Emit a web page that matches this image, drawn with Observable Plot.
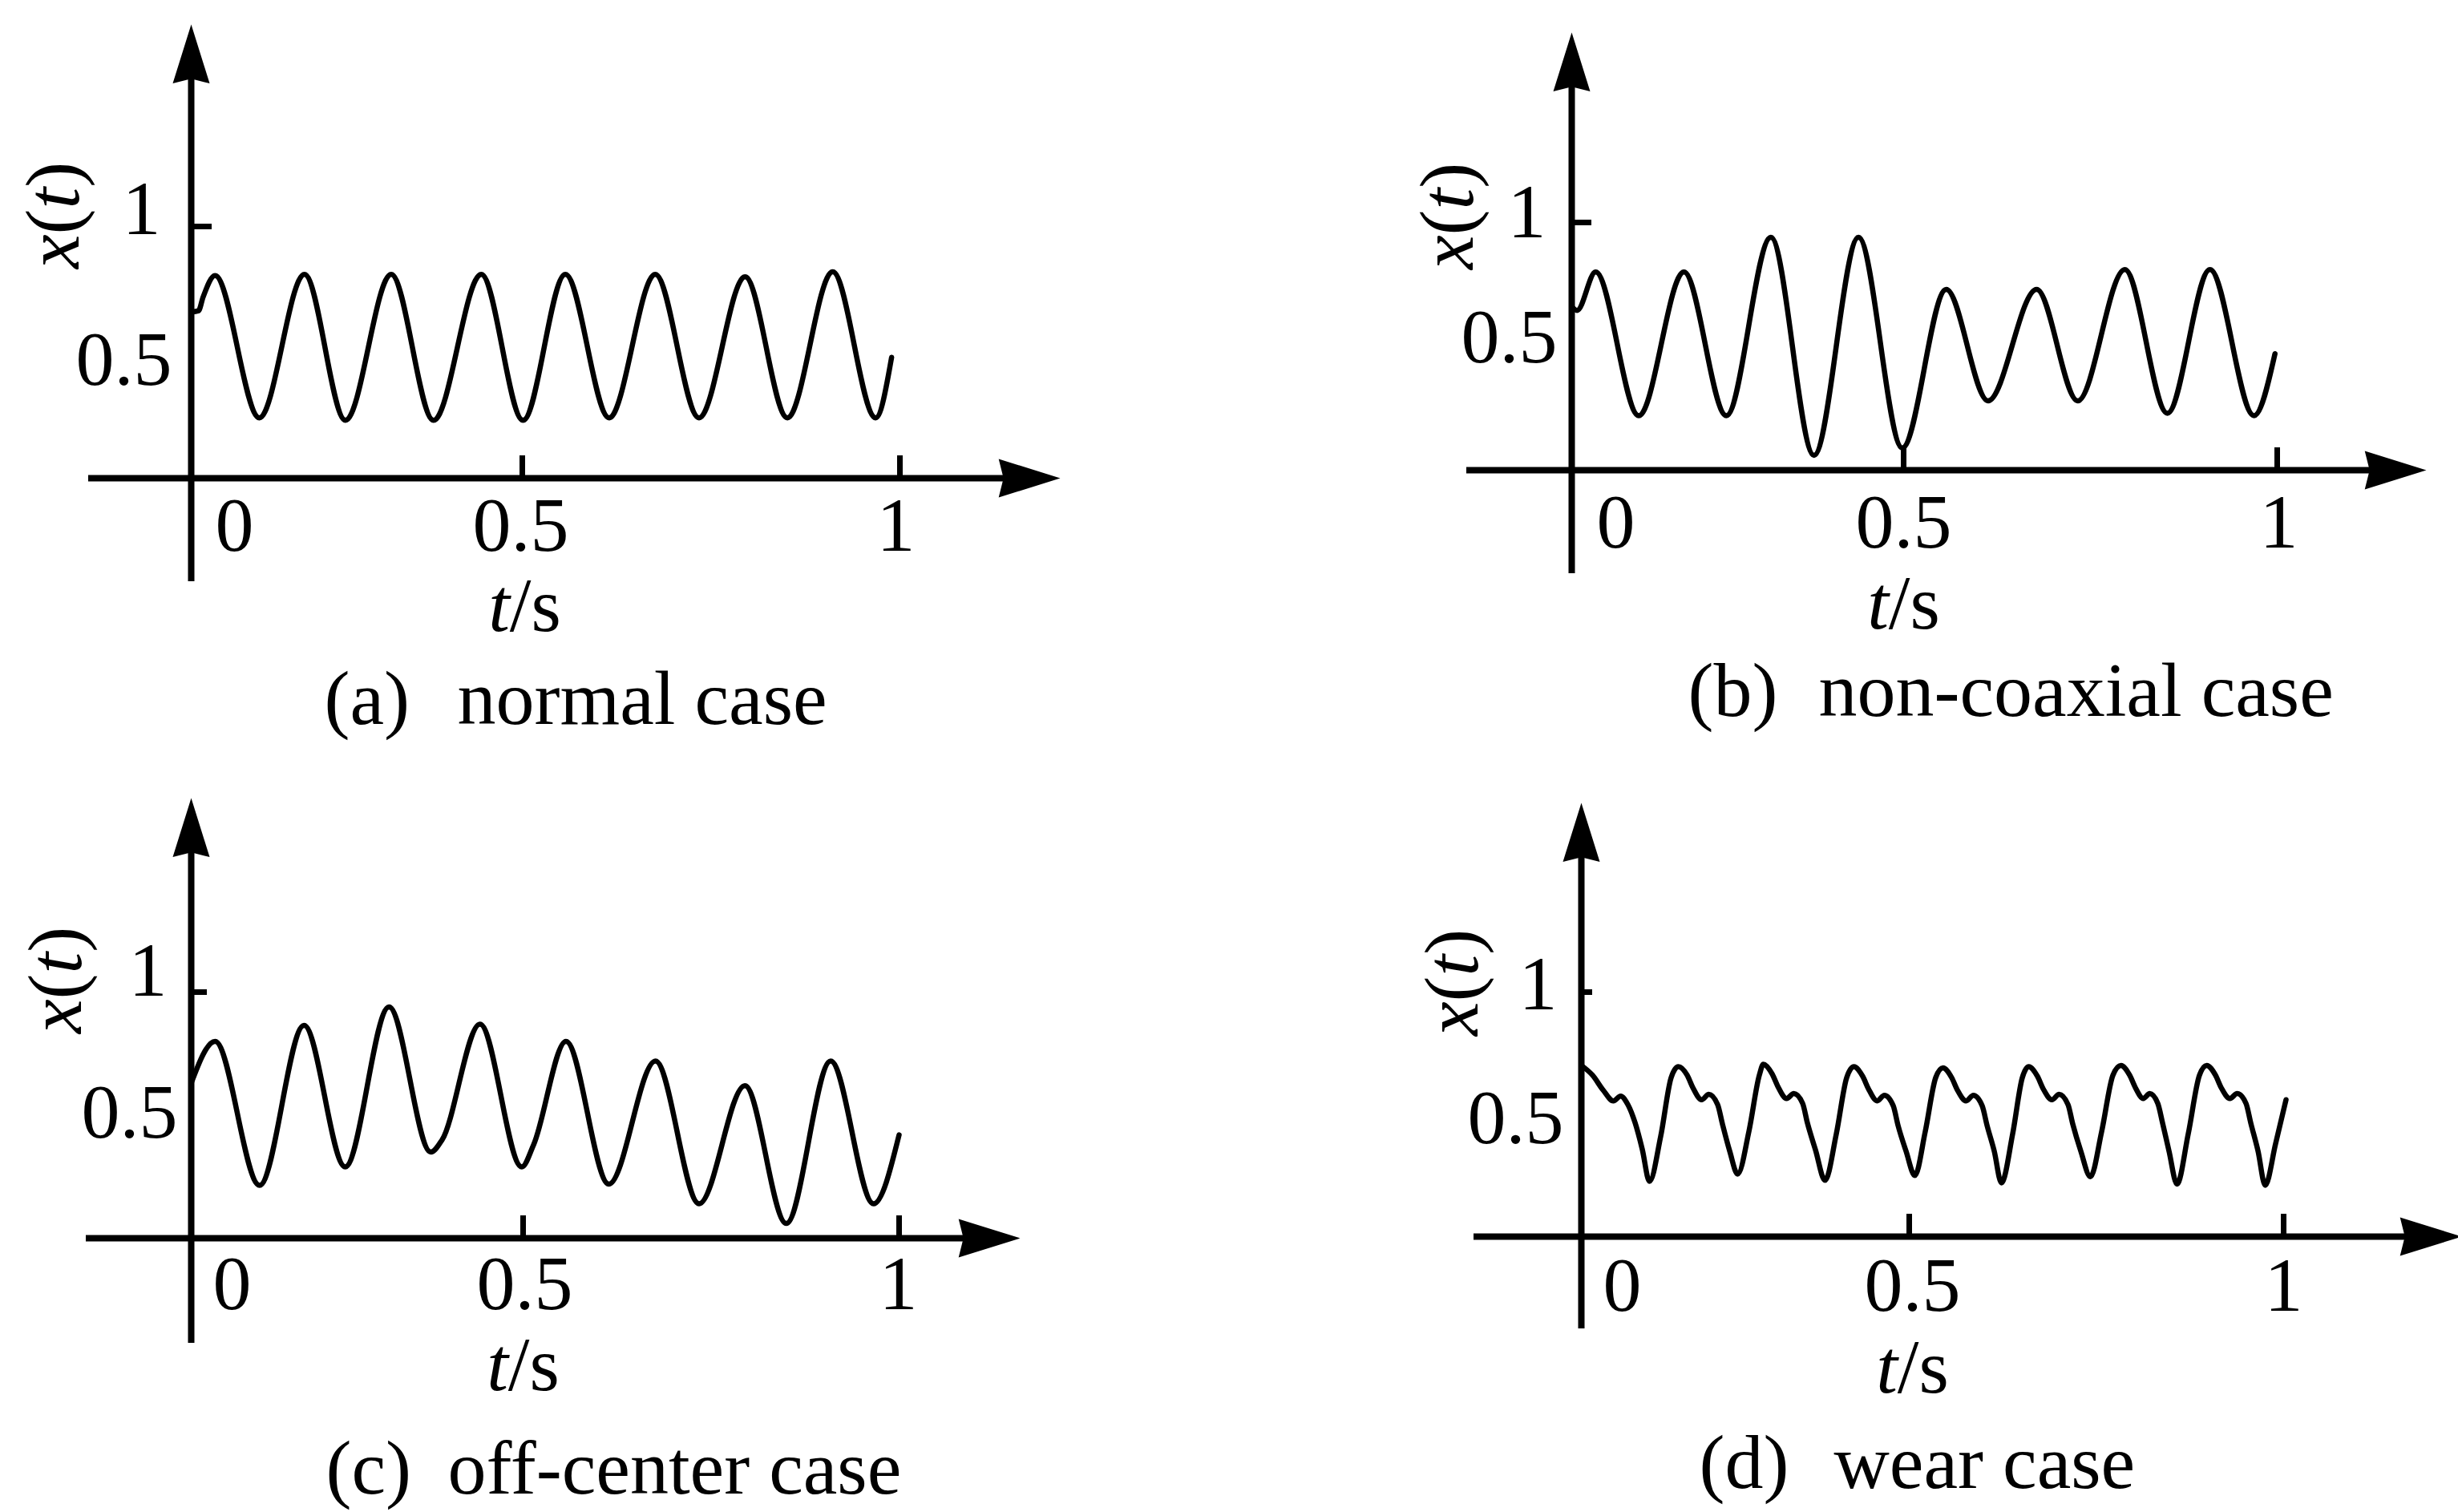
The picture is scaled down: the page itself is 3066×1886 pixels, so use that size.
<!DOCTYPE html>
<html>
<head>
<meta charset="utf-8">
<script src="https://cdn.jsdelivr.net/npm/d3@7"></script>
<script src="https://cdn.jsdelivr.net/npm/@observablehq/plot@0.6"></script>
<style>
html, body { margin: 0; padding: 0; background: #fff; }
#page { position: relative; width: 3066px; height: 1886px; overflow: hidden; background: #fff; }
#page svg { position: absolute; overflow: visible; background: transparent; max-width: none; }
</style>
</head>
<body>
<div id="page"></div>
<script>
// ---------------- data ----------------
// (a) normal case
const tA = [0, 0.011, 0.018, 0.036, 0.103, 0.171, 0.233, 0.302, 0.366, 0.438, 0.501, 0.557, 0.615, 0.676, 0.734, 0.795, 0.851, 0.911, 0.968, 0.989];
const xA = [0.66, 0.665, 0.72, 0.805, 0.24, 0.81, 0.23, 0.81, 0.23, 0.81, 0.23, 0.81, 0.24, 0.81, 0.24, 0.80, 0.24, 0.82, 0.24, 0.48];
// (b) non-coaxial case
const tB = [0, 0.008, 0.036, 0.101, 0.169, 0.233, 0.300, 0.365, 0.432, 0.498, 0.557, 0.613, 0.678, 0.733, 0.796, 0.853, 0.910, 0.969, 0.997];
const xB = [0.66, 0.645, 0.80, 0.22, 0.80, 0.22, 0.94, 0.06, 0.94, 0.09, 0.73, 0.28, 0.73, 0.28, 0.81, 0.23, 0.81, 0.22, 0.47];
// (c) off-center case
const tC = [0, 0.036, 0.103, 0.170, 0.232, 0.298, 0.361, 0.378, 0.435, 0.498, 0.514, 0.557, 0.614, 0.676, 0.734, 0.795, 0.850, 0.909, 0.966, 1.0];
const xC = [0.63, 0.80, 0.215, 0.865, 0.29, 0.94, 0.35, 0.40, 0.87, 0.29, 0.38, 0.80, 0.22, 0.72, 0.14, 0.62, 0.06, 0.72, 0.14, 0.42];
// (d) wear case
const tD = [0, 0.0171, 0.0330, 0.0489, 0.0599, 0.0709, 0.0819, 0.0929, 0.1039, 0.1210, 0.1369, 0.1479,
  0.1614, 0.1699, 0.1834, 0.1944, 0.2078, 0.2152, 0.2262, 0.2384, 0.2555, 0.2714, 0.2775,
  0.2910, 0.2995, 0.3130, 0.3240, 0.3374, 0.3447, 0.3570, 0.3716, 0.3888, 0.4046, 0.4156,
  0.4291, 0.4377, 0.4511, 0.4621, 0.4756, 0.4829, 0.4951, 0.5075, 0.5214, 0.5353, 0.5450,
  0.5567, 0.5642, 0.5760, 0.5857, 0.5974, 0.6039, 0.6135, 0.6231, 0.6381, 0.6510, 0.6595,
  0.6713, 0.6788, 0.6906, 0.7002, 0.7120, 0.7184, 0.7291, 0.7420, 0.7570, 0.7720, 0.7827,
  0.7944, 0.8019, 0.8126, 0.8212, 0.8319, 0.8383, 0.8469, 0.8576, 0.8726, 0.8876, 0.8972,
  0.9090, 0.9165, 0.9283, 0.9379, 0.9497, 0.9561, 0.9658, 0.9754, 0.9893, 1.0032];
const xD = [0.70, 0.66, 0.60, 0.555, 0.575, 0.54, 0.466, 0.357, 0.226, 0.41, 0.65, 0.695,
  0.66, 0.61, 0.56, 0.582, 0.54, 0.46, 0.35, 0.256, 0.43, 0.66, 0.705,
  0.665, 0.615, 0.565, 0.585, 0.545, 0.465, 0.355, 0.23, 0.42, 0.65, 0.695,
  0.655, 0.605, 0.555, 0.578, 0.535, 0.455, 0.35, 0.25, 0.43, 0.65, 0.69,
  0.65, 0.60, 0.555, 0.578, 0.535, 0.455, 0.35, 0.22, 0.42, 0.65, 0.695,
  0.655, 0.605, 0.56, 0.582, 0.54, 0.46, 0.35, 0.245, 0.43, 0.66, 0.70,
  0.66, 0.61, 0.565, 0.585, 0.545, 0.465, 0.35, 0.215, 0.42, 0.66, 0.70,
  0.66, 0.61, 0.565, 0.585, 0.545, 0.465, 0.35, 0.21, 0.38, 0.56];

// tick values and labels
const xTickValues = [0, 0.5, 1];
const xTickLabels = ["0", "0.5", "1"];
const yTickValues = [0.5, 1];
const yTickLabels = ["0.5", "1"];
const yLabel = "x(t)";
const xLabel = "t/s";
const panelLetters = ["(a)", "(b)", "(c)", "(d)"];
const panelNames = ["normal case", "non-coaxial case", "off-center case", "wear case"];

// ---------------- layout (page pixels) ----------------
const FONT = "'Liberation Serif', 'Times New Roman', Times, serif";
const PW = 1533, PH = 943;
const layout = [
  {left: 0, top: 0, x0: 238, x5: 651, x1: 1122, y0: 596, y1: 282, axL: 110, axR: 1322, ayB: 725, ayT: 30, yTick: 26,
   y1Lab: [-38, -21], y5Lab: [-24, 10], yTitle: [-171, -14], xLabDx: [54, -2, -5], xLabDy: 60, xTitle: [3, 160], cap: [404, 570, 872]},
  {left: PW, top: 0, x0: 1960, x5: 2374, x1: 2840, y0: 586, y1: 277, axL: 1829, axR: 3026, ayB: 715, ayT: 40, yTick: 25,
   y1Lab: [-32, -12], y5Lab: [-18, -11], yTitle: [-154, -8], xLabDx: [55, 0, 2], xLabDy: 66, xTitle: [0, 167], cap: [2105, 2268, 862]},
  {left: 0, top: PH, x0: 238, x5: 652, x1: 1121, y0: 1544, y1: 1237, axL: 107, axR: 1272, ayB: 1675, ayT: 995, yTick: 20,
   y1Lab: [-30, -26], y5Lab: [-17, -3], yTitle: [-168, -15], xLabDx: [51, 2, -1], xLabDy: 58, xTitle: [0, 159], cap: [406, 558, 1832]},
  {left: PW, top: PH, x0: 1972, x5: 2381, x1: 2848, y0: 1542, y1: 1237, axL: 1838, axR: 3070, ayB: 1657, ayT: 1001, yTick: 14,
   y1Lab: [-30, -9], y5Lab: [-22, 5], yTitle: [-160, -12], xLabDx: [51, 4, 0], xLabDy: 62, xTitle: [4, 164], cap: [2119, 2287, 1825]}
];

// filled arrow head symbol: tip at origin, pointing up
const arrowHead = {
  draw(context, size) {
    const r = Math.sqrt(size / Math.PI);
    const L = 3.2 * r, notch = 0.25 * r;
    context.moveTo(0, 0);
    context.lineTo(r, L);
    context.lineTo(0, L - notch);
    context.lineTo(-r, L);
    context.closePath();
  }
};

function makePanel(i, ts, vs) {
  const g = layout[i];
  const xr = [g.x0 - g.left, g.x5 - g.left, g.x1 - g.left];
  const yr = [g.y0 - g.top, g.y1 - g.top];
  const sx = d3.scaleLinear().domain(xTickValues).range(xr);
  const sy = d3.scaleLinear().domain([0, 1]).range(yr);
  const ix = px => sx.invert(px - g.left);
  const iy = py => sy.invert(py - g.top);
  const rX = 24, rY = 23;
  const series = ts.map((t, k) => ({t, v: vs[k]}));
  const font = {fontFamily: FONT, fontSize: 96, fill: "black"};
  const lab = (xv, yv, s, opts) => Plot.text([s], {x: () => xv, y: () => yv, text: d => d, ...font, ...opts});
  const cap = (s, px) => Plot.text([s], {frameAnchor: "top-left", text: d => d, textAnchor: "start", lineAnchor: "middle",
    dx: px - g.left, dy: g.cap[2] - g.top, ...font});

  const marks = [
    // axes
    Plot.ruleY([0], {x1: ix(g.axL), x2: ix(g.axR - 3.2 * rX + 12), stroke: "black", strokeWidth: 8}),
    Plot.ruleX([0], {y1: iy(g.ayB), y2: iy(g.ayT + 3.2 * rY - 12), stroke: "black", strokeWidth: 8}),
    Plot.dot([{t: ix(g.axR), v: 0}], {x: "t", y: "v", symbol: arrowHead, r: rX, rotate: 90, fill: "black", stroke: "none"}),
    Plot.dot([{t: 0, v: iy(g.ayT)}], {x: "t", y: "v", symbol: arrowHead, r: rY, fill: "black", stroke: "none"}),
    // ticks
    Plot.ruleY([yTickValues[1]], {x1: 0, x2: ix(g.x0 + g.yTick), stroke: "black", strokeWidth: 7}),
    Plot.ruleX(xTickValues.slice(1), {y1: 0, y2: iy(g.y0 - 28), stroke: "black", strokeWidth: 7}),
    // signal
    Plot.line(series, {x: "t", y: "v", curve: "monotone-x", stroke: "black", strokeWidth: 6.5, strokeLinejoin: "round"}),
    // y tick labels
    lab(0, yTickValues[1], yTickLabels[1], {textAnchor: "end", dx: g.y1Lab[0], dy: g.y1Lab[1]}),
    lab(0, yTickValues[0], yTickLabels[0], {textAnchor: "end", dx: g.y5Lab[0], dy: g.y5Lab[1]}),
    // y title
    lab(0, 1, yLabel, {rotate: -90, dx: g.yTitle[0], dy: g.yTitle[1]}),
    // x tick labels
    ...xTickValues.map((v, k) => lab(v, 0, xTickLabels[k], {dx: g.xLabDx[k], dy: g.xLabDy})),
    // x title
    lab(0.5, 0, xLabel, {dx: g.xTitle[0], dy: g.xTitle[1]}),
    // caption
    cap(panelLetters[i], g.cap[0]),
    cap(panelNames[i], g.cap[1])
  ];

  const svg = Plot.plot({
    width: PW,
    height: PH,
    margin: 0,
    x: {type: "linear", domain: xTickValues, range: xr, axis: null},
    y: {type: "linear", domain: [0, 1], range: yr, axis: null},
    style: {background: "transparent", overflow: "visible"},
    marks
  });
  svg.style.left = g.left + "px";
  svg.style.top = g.top + "px";

  // italic math letters
  d3.select(svg).selectAll("text").each(function () {
    const s = this.textContent;
    if (s === yLabel) {
      this.textContent = "";
      const el = d3.select(this);
      el.append("tspan").attr("font-style", "italic").text("x");
      el.append("tspan").text("(");
      el.append("tspan").attr("font-style", "italic").text("t");
      el.append("tspan").text(")");
    } else if (s === xLabel) {
      this.textContent = "";
      const el = d3.select(this);
      el.append("tspan").attr("font-style", "italic").text("t");
      el.append("tspan").text("/s");
    }
  });
  return svg;
}

const page = document.getElementById("page");
[[tA, xA], [tB, xB], [tC, xC], [tD, xD]].forEach(([t, v], i) => page.appendChild(makePanel(i, t, v)));
</script>
</body>
</html>
